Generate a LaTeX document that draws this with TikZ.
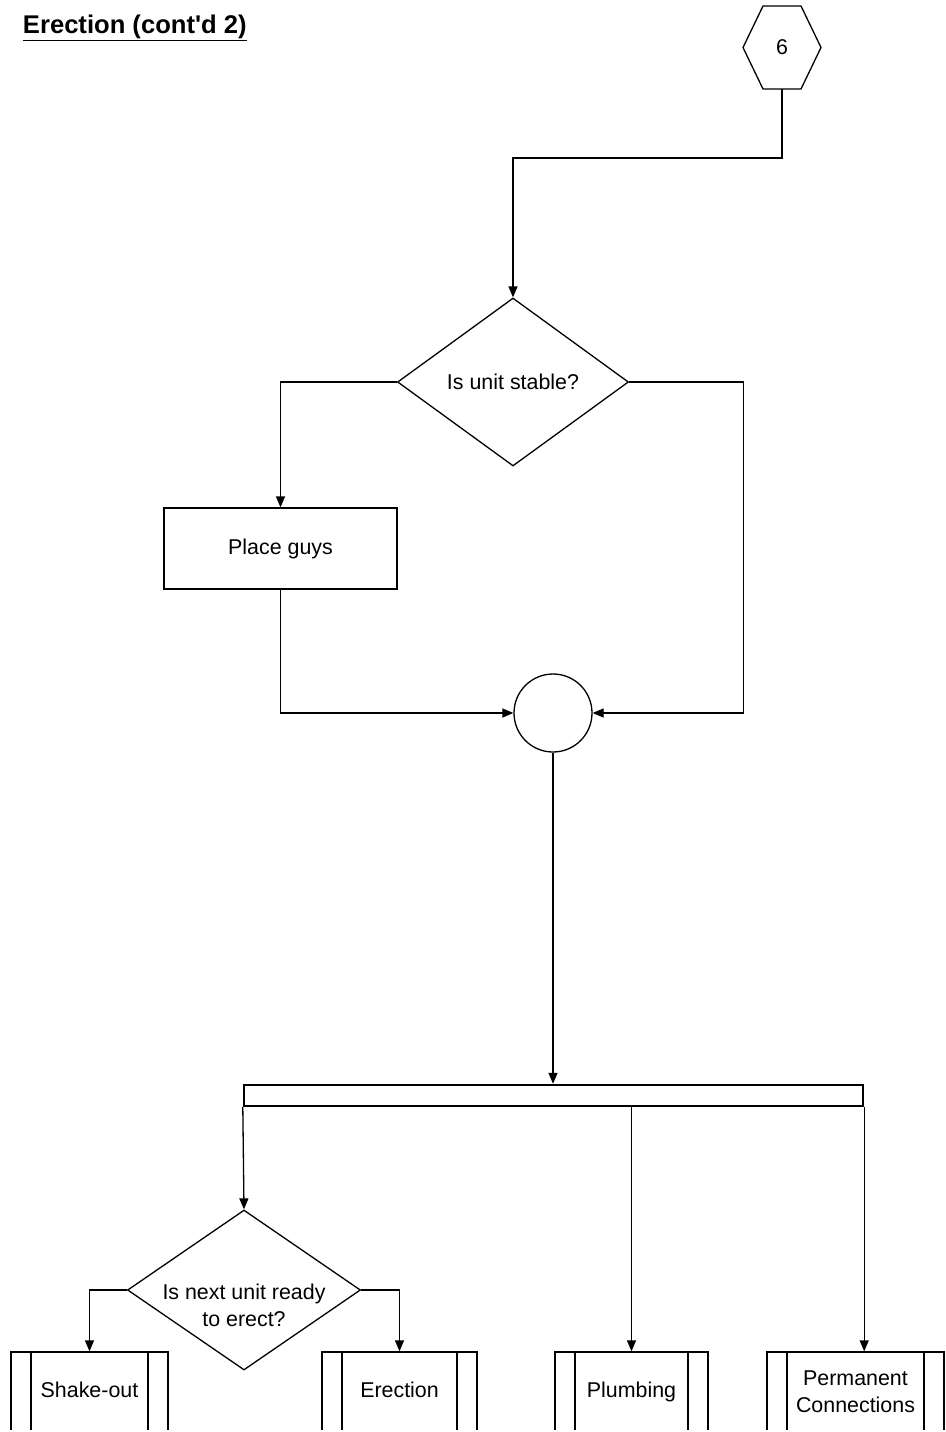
\documentclass[tikz,border=0pt]{standalone}
\usepackage{fontspec}
\setmainfont{Liberation Sans}
\usetikzlibrary{shapes.geometric,arrows.meta}

\begin{document}
\begin{tikzpicture}[x=1pt,y=-1pt,line width=1.3pt,
  every node/.style={font=\fontsize{21.4}{27}\selectfont},
  flowArrow/.style={-{Triangle[length=11pt,width=9pt]}},
  stepBox/.style={draw,rectangle,minimum width=233pt,minimum height=81pt},
  decisionBox/.style={draw,diamond,inner sep=0pt,aspect=1.45},
  subProc/.style={draw,rectangle,minimum height=80pt,path picture={
    \draw ([xshift=20pt]path picture bounding box.north west) -- ([xshift=20pt]path picture bounding box.south west);
    \draw ([xshift=-20pt]path picture bounding box.north east) -- ([xshift=-20pt]path picture bounding box.south east);}},
  subText/.style={subProc,text height=15.5pt,text depth=4.5pt}]
\useasboundingbox (0,0) rectangle (945,1432);
\clip (0,0) rectangle (945,1429.5);
\node[anchor=base west,font=\fontsize{25.6}{30}\selectfont\bfseries] (title) at (19,33) {\underline{Erection (cont\textquotesingle d 2)}};
\node[minimum width=78pt,minimum height=83pt,outer sep=0pt,inner sep=0pt] (hex6) at (782,47.5) {6};
\draw ([xshift=20pt]hex6.north west) -- ([xshift=-20pt]hex6.north east) -- (hex6.east)
  -- ([xshift=-20pt]hex6.south east) -- ([xshift=20pt]hex6.south west) -- (hex6.west) -- cycle;
\node[decisionBox,minimum width=231pt,minimum height=168pt] (qStable) at (513,382) {Is unit stable?};
\node[stepBox] (placeGuys) at (280.5,548.5) {Place guys};
\node[draw,circle,minimum size=78pt,inner sep=0pt] (joinCirc) at (553,713) {};
\node[draw,line width=2.4pt,minimum width=619pt,minimum height=21pt,inner sep=0pt] (bar) at (553.5,1095.5) {};
\node[decisionBox,minimum width=233pt,minimum height=160pt] (qNext) at (244,1290) {};
\node[align=center] (qNextTxt) at (244,1305) {Is next unit ready\\to erect?};
\node[subText,minimum width=157pt] (shakeOut) at (89.5,1392) {Shake-out};
\node[subText,minimum width=155pt] (erection) at (399.5,1392) {Erection};
\node[subText,minimum width=153pt] (plumbing) at (631.5,1392) {Plumbing};
\node[subProc,minimum width=177pt,align=center] (permConn) at (855.5,1392) {Permanent\\Connections};
\draw[flowArrow] (hex6.south) -- ++(0,69) -| (qStable.north);
\draw[flowArrow] (qStable.west) -| (placeGuys.north);
\draw[flowArrow] (qStable.east) -- ++(114.5,0) |- (joinCirc.east);
\draw[flowArrow] (placeGuys.south) |- (joinCirc.west);
\draw[flowArrow] (joinCirc.south) -- (joinCirc.south |- bar.north);
\draw[flowArrow] (bar.south west) -- (qNext.north);
\draw[flowArrow] (plumbing.north |- bar.south) -- (plumbing.north);
\draw[flowArrow] (bar.south east) -- (bar.south east |- permConn.north);
\draw[flowArrow] (qNext.west) -| (shakeOut.north);
\draw[flowArrow] (qNext.east) -| (erection.north);
\end{tikzpicture}
\end{document}
